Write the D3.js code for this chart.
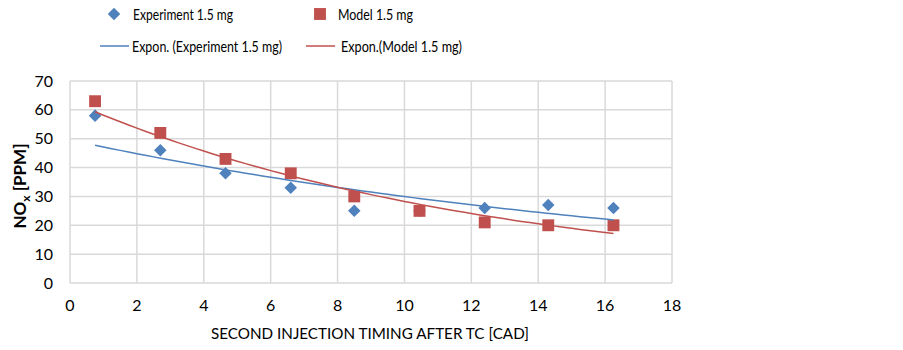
<!DOCTYPE html>
<html>
<head>
<meta charset="utf-8">
<script src="https://cdn.jsdelivr.net/npm/d3@7"></script>
<style>
  body { margin: 0; background: #fff; }
  text { font-family: Lato, "Open Sans", sans-serif; fill: #000; }
</style>
</head>
<body>
<svg id="chart" width="903" height="350"></svg>
<script>
// data
var timing = [0.75, 2.7, 4.65, 6.6, 8.5, 10.45, 12.4, 14.3, 16.25]
var experiment = [58, 46, 38, 33, 25, 25, 26, 27, 26]
var model = [63, 52, 43, 38, 30, 25, 21, 20, 20]
var xTicks = [0, 2, 4, 6, 8, 10, 12, 14, 16, 18]
var yTicks = [0, 10, 20, 30, 40, 50, 60, 70]

var blue = "#4F81BD", red = "#C0504D"

var svg = d3.select("#chart")

// plot box (window.top is read-only, so no "top" name here)
var plotL = 70, plotR = 672, plotT = 81, plotB = 283

var x = d3.scaleLinear().domain([0, 18]).range([plotL, plotR])
var y = d3.scaleLinear().domain([0, 70]).range([plotB, plotT])

// gridlines
svg.append("g").selectAll("line")
  .data(yTicks).enter().append("line")
    .attr("x1", plotL).attr("x2", plotR)
    .attr("y1", function(d) { return y(d) }).attr("y2", function(d) { return y(d) })
    .attr("stroke", "#D9D9D9").attr("stroke-width", 1.5)

svg.append("g").selectAll("line")
  .data(xTicks).enter().append("line")
    .attr("x1", function(d) { return x(d) }).attr("x2", function(d) { return x(d) })
    .attr("y1", plotT).attr("y2", plotB)
    .attr("stroke", "#D9D9D9").attr("stroke-width", 1.5)

// tick labels
svg.append("g").selectAll("text")
  .data(yTicks).enter().append("text")
    .attr("x", 53).attr("y", function(d) { return y(d) + 5.5 })
    .attr("text-anchor", "end").style("font-size", "16px")
    .text(function(d) { return d })

svg.append("g").selectAll("text")
  .data(xTicks).enter().append("text")
    .attr("x", function(d) { return x(d) }).attr("y", 311)
    .attr("text-anchor", "middle").style("font-size", "16px")
    .text(function(d) { return d })

// axis titles
svg.append("text")
  .attr("x", 370).attr("y", 339)
  .attr("text-anchor", "middle").style("font-size", "15px")
  .attr("textLength", 318).attr("lengthAdjust", "spacingAndGlyphs")
  .text("SECOND INJECTION TIMING AFTER TC [CAD]")

var ylab = svg.append("text")
  .attr("transform", "translate(26,186) rotate(-90)")
  .attr("text-anchor", "middle").style("font-size", "17px").style("font-weight", "bold")
ylab.append("tspan").text("NO")
ylab.append("tspan").text("x").attr("dy", 4).style("font-size", "12px")
ylab.append("tspan").text(" [PPM]").attr("dy", -4)

// exponential trendline: least squares on ln(y), same as the spreadsheet does
function expFit(xs, ys) {
  var ly = ys.map(Math.log)
  var mx = d3.mean(xs), my = d3.mean(ly)
  var num = d3.sum(xs, function(v, i) { return (v - mx) * (ly[i] - my) })
  var den = d3.sum(xs, function(v) { return (v - mx) * (v - mx) })
  var b = num / den, a = my - b * mx
  return function(v) { return Math.exp(a + b * v) }
}

function trend(ys, colour) {
  var f = expFit(timing, ys)
  var pts = d3.range(timing[0], timing[timing.length - 1] + 0.001, 0.25)
  svg.append("path")
    .attr("d", d3.line().x(function(d) { return x(d) }).y(function(d) { return y(f(d)) })(pts))
    .attr("fill", "none").attr("stroke", colour).attr("stroke-width", 1.5)
}

// points
var diamond = d3.symbol().type(d3.symbolDiamond2).size(100)
var square = d3.symbol().type(d3.symbolSquare2).size(180)

svg.append("g").selectAll("path")
  .data(timing).enter().append("path")
    .attr("d", diamond)
    .attr("transform", function(d, i) { return "translate(" + x(d) + "," + y(experiment[i]) + ")" })
    .attr("fill", blue)

svg.append("g").selectAll("path")
  .data(timing).enter().append("path")
    .attr("d", square)
    .attr("transform", function(d, i) { return "translate(" + x(d) + "," + y(model[i]) + ")" })
    .attr("fill", red)

trend(experiment, blue)
trend(model, red)

// legend
function legendText(tx, ty, label, len) {
  svg.append("text").attr("x", tx).attr("y", ty)
    .attr("textLength", len).attr("lengthAdjust", "spacingAndGlyphs")
    .style("font-size", "16px").text(label)
}
svg.append("path").attr("d", diamond).attr("transform", "translate(114,14)").attr("fill", blue)
legendText(133, 19.5, "Experiment 1.5 mg", 100)
svg.append("path").attr("d", square).attr("transform", "translate(320,14)").attr("fill", red)
legendText(338, 19.5, "Model 1.5 mg", 75)

svg.append("line").attr("x1", 100).attr("x2", 129).attr("y1", 46).attr("y2", 46)
  .attr("stroke", blue).attr("stroke-width", 1.5)
legendText(132, 51.5, "Expon. (Experiment 1.5 mg)", 150)
svg.append("line").attr("x1", 306).attr("x2", 335).attr("y1", 46).attr("y2", 46)
  .attr("stroke", red).attr("stroke-width", 1.5)
legendText(341, 51.5, "Expon.(Model 1.5 mg)", 121)
</script>
</body>
</html>
